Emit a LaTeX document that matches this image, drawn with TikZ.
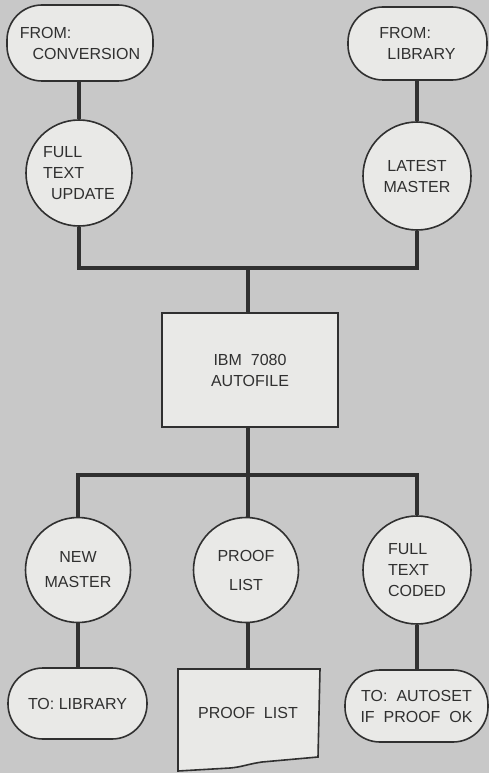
\documentclass[tikz,border=0pt]{standalone}
\usepackage{fontspec}
\setmainfont{Liberation Sans}
\definecolor{bgc}{RGB}{200,200,200}
\definecolor{fillc}{RGB}{233,233,231}
\definecolor{inkc}{RGB}{48,48,48}
\begin{document}
\begin{tikzpicture}[x=1pt,y=-1pt,
  every node/.style={font=\fontsize{16}{21}\selectfont, text=inkc},
  shp/.style={draw=inkc, line width=1.6pt, fill=fillc, inner sep=0pt},
  term/.style={shp, rectangle, rounded corners=35pt},
  disc/.style={shp, circle, minimum size=106pt},
  proc/.style={shp, rectangle, minimum width=176pt, minimum height=114pt, rounded corners=0pt},
  conn/.style={draw=inkc, line width=3.2pt}
]
\fill[bgc] (0,0) rectangle (489,773);
\useasboundingbox (0,0) rectangle (489,773);

% shapes
\node[term, minimum width=146pt, minimum height=76pt, align=left] (fc) at (80,43) {FROM:\\\hspace*{0.8em}CONVERSION};
\node[term, minimum width=139pt, minimum height=73pt, align=left] (fl) at (417.5,43.5) {FROM:\\\hspace*{0.5em}LIBRARY};
\node[disc, align=left] (ftu) at (79,173) {FULL\\TEXT\\\hspace*{0.5em}UPDATE};
\node[disc, minimum size=108pt, align=center] (lm) at (417,176) {LATEST\\MASTER};
\node[proc, align=center] (box) at (250,370) {IBM\ \ 7080\\AUTOFILE};
\node[disc, minimum size=105pt, align=center] (nm) at (78,570) {NEW\\[4pt]MASTER};
\node[disc, minimum size=105pt, align=center] (pr) at (246,570) {PROOF\\[8pt]LIST};
\node[disc, minimum size=108pt, align=left] (ftc) at (417,570) {FULL\\TEXT\\CODED};
\node[term, minimum width=139pt, minimum height=71pt] (tl) at (77.5,703.5) {TO:\ LIBRARY};
\node[term, minimum width=143pt, minimum height=72pt, align=center] (ta) at (416.5,706) {TO:\ \ AUTOSET\\IF\ \ PROOF\ \ OK};

% proof list document
\coordinate (d1) at (178,669);
\coordinate (d2) at (320,669);
\coordinate (d3) at (318,757);
\coordinate (d4) at (262,762);
\coordinate (d5) at (230,768);
\coordinate (d6) at (178,771);
\filldraw[fill=fillc, draw=inkc, line width=1.6pt, line join=miter]
  (d1) -- (d2) -- (d3) -- (d4) .. controls (248,764) and (242,767) .. (d5) -- (d6) -- cycle;
\node (pl) at (248,713) {PROOF\ \ LIST};
\coordinate (dtop) at (248,669);

% connectors
\coordinate (hubtop) at (248,268);
\coordinate (hubbot) at (248,475);
\draw[conn] (fc.south -| ftu.north) -- (ftu.north);
\draw[conn] (fl.south -| lm.north) -- (lm.north);
\draw[conn, line join=miter] (ftu.south) -- (ftu.south |- hubtop) -- (lm.south |- hubtop) -- (lm.south);
\draw[conn] (hubtop) -- (box.north -| hubtop);
\draw[conn, line join=miter] (nm.north) -- (nm.north |- hubbot) -- (ftc.north |- hubbot) -- (ftc.north);
\draw[conn] (box.south -| hubbot) -- (pr.north -| hubbot);
\draw[conn] (nm.south) -- (tl.north -| nm.south);
\draw[conn] (pr.south -| dtop) -- (dtop);
\draw[conn] (ftc.south) -- (ta.north -| ftc.south);
\end{tikzpicture}
\end{document}
